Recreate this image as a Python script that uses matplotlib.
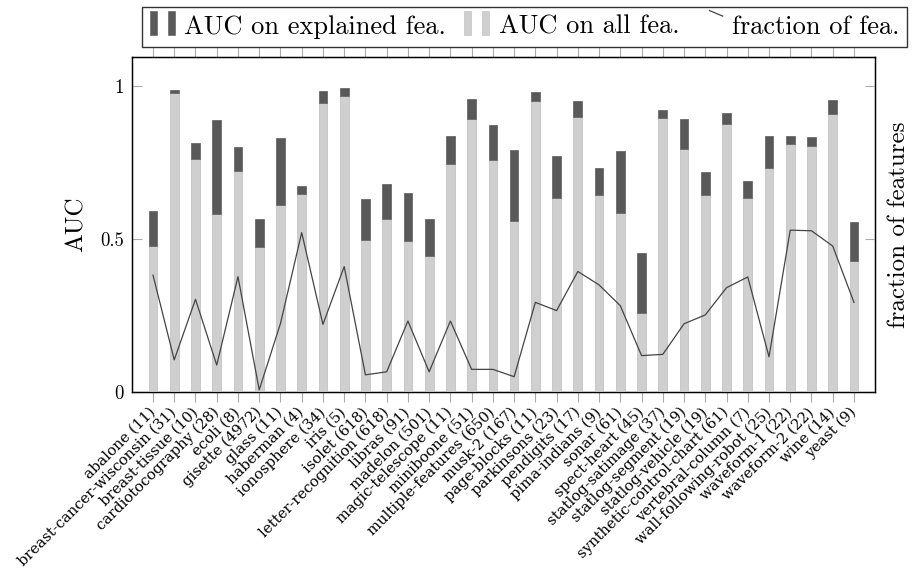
import matplotlib
matplotlib.use("Agg")
import matplotlib.pyplot as plt
from matplotlib.legend_handler import HandlerBase
from matplotlib.patches import Rectangle
from matplotlib.lines import Line2D
import numpy as np

plt.rcParams['font.family'] = ['cmr10', 'DejaVu Serif']
plt.rcParams['axes.formatter.use_mathtext'] = True

datasets = ["abalone (11)", "breast-cancer-wisconsin (31)", "breast-tissue (10)",
            "cardiotocography (28)", "ecoli (8)", "gisette (4972)", "glass (11)",
            "haberman (4)", "ionosphere (34)", "iris (5)", "isolet (618)",
            "letter-recognition (618)", "libras (91)", "madelon (501)",
            "magic-telescope (11)", "miniboone (51)", "multiple-features (650)",
            "musk-2 (167)", "page-blocks (11)", "parkinsons (23)", "pendigits (17)",
            "pima-indians (9)", "sonar (61)", "spect-heart (45)", "statlog-satimage (37)",
            "statlog-segment (19)", "statlog-vehicle (19)", "synthetic-control-chart (61)",
            "vertebral-column (7)", "wall-following-robot (25)", "waveform-1 (22)",
            "waveform-2 (22)", "wine (14)", "yeast (9)"]

auc_explained = [0.592, 0.987, 0.815, 0.889, 0.801, 0.565, 0.831, 0.674, 0.984, 0.993,
                 0.630, 0.681, 0.651, 0.567, 0.838, 0.958, 0.873, 0.791, 0.981, 0.770,
                 0.952, 0.731, 0.789, 0.454, 0.923, 0.893, 0.718, 0.913, 0.690, 0.838,
                 0.838, 0.833, 0.956, 0.557]

auc_all = [0.478, 0.976, 0.760, 0.581, 0.724, 0.475, 0.611, 0.648, 0.946, 0.968,
           0.496, 0.567, 0.493, 0.443, 0.746, 0.892, 0.758, 0.560, 0.952, 0.633,
           0.898, 0.645, 0.586, 0.257, 0.895, 0.794, 0.644, 0.877, 0.634, 0.733,
           0.809, 0.805, 0.910, 0.428]

fraction = [0.382, 0.105, 0.303, 0.088, 0.377, 0.007, 0.224, 0.521, 0.221, 0.410,
            0.056, 0.066, 0.232, 0.066, 0.232, 0.074, 0.074, 0.050, 0.293, 0.266,
            0.394, 0.350, 0.282, 0.119, 0.123, 0.223, 0.252, 0.341, 0.376, 0.115,
            0.529, 0.527, 0.477, 0.293]

DARK = "#595959"
LIGHT = "#cfcfcf"
LINEC = "#444444"
TICKC = "#aaaaaa"

fig = plt.figure(figsize=(9.13, 5.70), dpi=100)
ax = fig.add_axes([132.3 / 913, 1 - 392 / 570, (875 - 132.3) / 913, (392 - 57) / 570])

x = np.arange(len(datasets))
w = 0.41
auc_all_a = np.array(auc_all)
auc_exp_a = np.array(auc_explained)
ax.bar(x, auc_all_a, width=w, color=LIGHT, edgecolor="#c4c4c4", linewidth=0.6, zorder=3, clip_on=False)
ax.bar(x, auc_exp_a - auc_all_a, bottom=auc_all_a, width=w, color=DARK,
       edgecolor="#6a6a6a", linewidth=0.6, zorder=3)

ax.set_xlim(-0.975, len(datasets) - 1 + 0.99)
ax.set_ylim(0, 1.095)
ax.set_yticks([0, 0.5, 1])
ax.set_yticklabels(["0", "0.5", "1"], fontsize=13.5)
ax.tick_params(axis='y', direction='in', length=7, width=0.8, color=TICKC, pad=6)
ax.set_xticks(x)
ax.set_xticklabels(datasets, rotation=45, ha='right', va='center', rotation_mode='anchor',
                   fontsize=10.6, family='DejaVu Serif')
ax.tick_params(axis='x', direction='out', length=7, width=0.8, color=TICKC, pad=6,
               top=True, bottom=True)
ax.set_ylabel("AUC", fontsize=18, labelpad=9)
for s in ax.spines.values():
    s.set_linewidth(1.0)

ax2 = ax.twinx()
ax2.plot(x, fraction, color=LINEC, linewidth=0.9, zorder=4)
ax2.set_ylim(0, 1.095)
ax2.set_yticks([0, 0.5, 1])
ax2.set_yticklabels([])
ax2.tick_params(axis='y', direction='in', length=7, width=0.8, color=TICKC)
ax2.set_ylabel("fraction of features", fontsize=18, labelpad=6)
ax2.set_zorder(ax.get_zorder() + 1)
ax2.patch.set_visible(False)


class TwoBarHandler(HandlerBase):
    def __init__(self, color, edge):
        super().__init__()
        self.color = color
        self.edge = edge

    def create_artists(self, legend, orig_handle, xdescent, ydescent, width, height, fontsize, trans):
        bw = width * 0.27
        y0 = -ydescent - 0.1 * height
        h = height * 1.35
        r1 = Rectangle((-xdescent, y0), bw, h, facecolor=self.color, edgecolor=self.edge,
                       linewidth=0.5, transform=trans)
        r2 = Rectangle((-xdescent + width * 0.68, y0), bw, h, facecolor=self.color,
                       edgecolor=self.edge, linewidth=0.5, transform=trans)
        return [r1, r2]


class TickLineHandler(HandlerBase):
    def create_artists(self, legend, orig_handle, xdescent, ydescent, width, height, fontsize, trans):
        x0 = -xdescent + width * 0.45
        l = Line2D([x0, x0 + width * 0.5], [height * 1.25, height * 0.95],
                   color=LINEC, linewidth=0.9, transform=trans)
        return [l]


h1 = Rectangle((0, 0), 1, 1)
h2 = Rectangle((0, 0), 1, 1)
h3 = Line2D([], [])
leg = fig.legend([h1, h2, h3], ["AUC on explained fea.", "AUC on all fea.", "fraction of fea."],
                 handler_map={h1: TwoBarHandler(DARK, "#6a6a6a"), h2: TwoBarHandler(LIGHT, "#c4c4c4"),
                              h3: TickLineHandler()},
                 loc='upper center', bbox_to_anchor=(524.5 / 913, 1 - 7 / 570), ncol=3,
                 frameon=True, fancybox=False, edgecolor='black', fontsize=19,
                 handlelength=1.0, handletextpad=0.3, columnspacing=0.7, borderpad=0.3,
                 borderaxespad=0)
leg.get_frame().set_linewidth(1.0)

fig.savefig("out.png", dpi=100)
